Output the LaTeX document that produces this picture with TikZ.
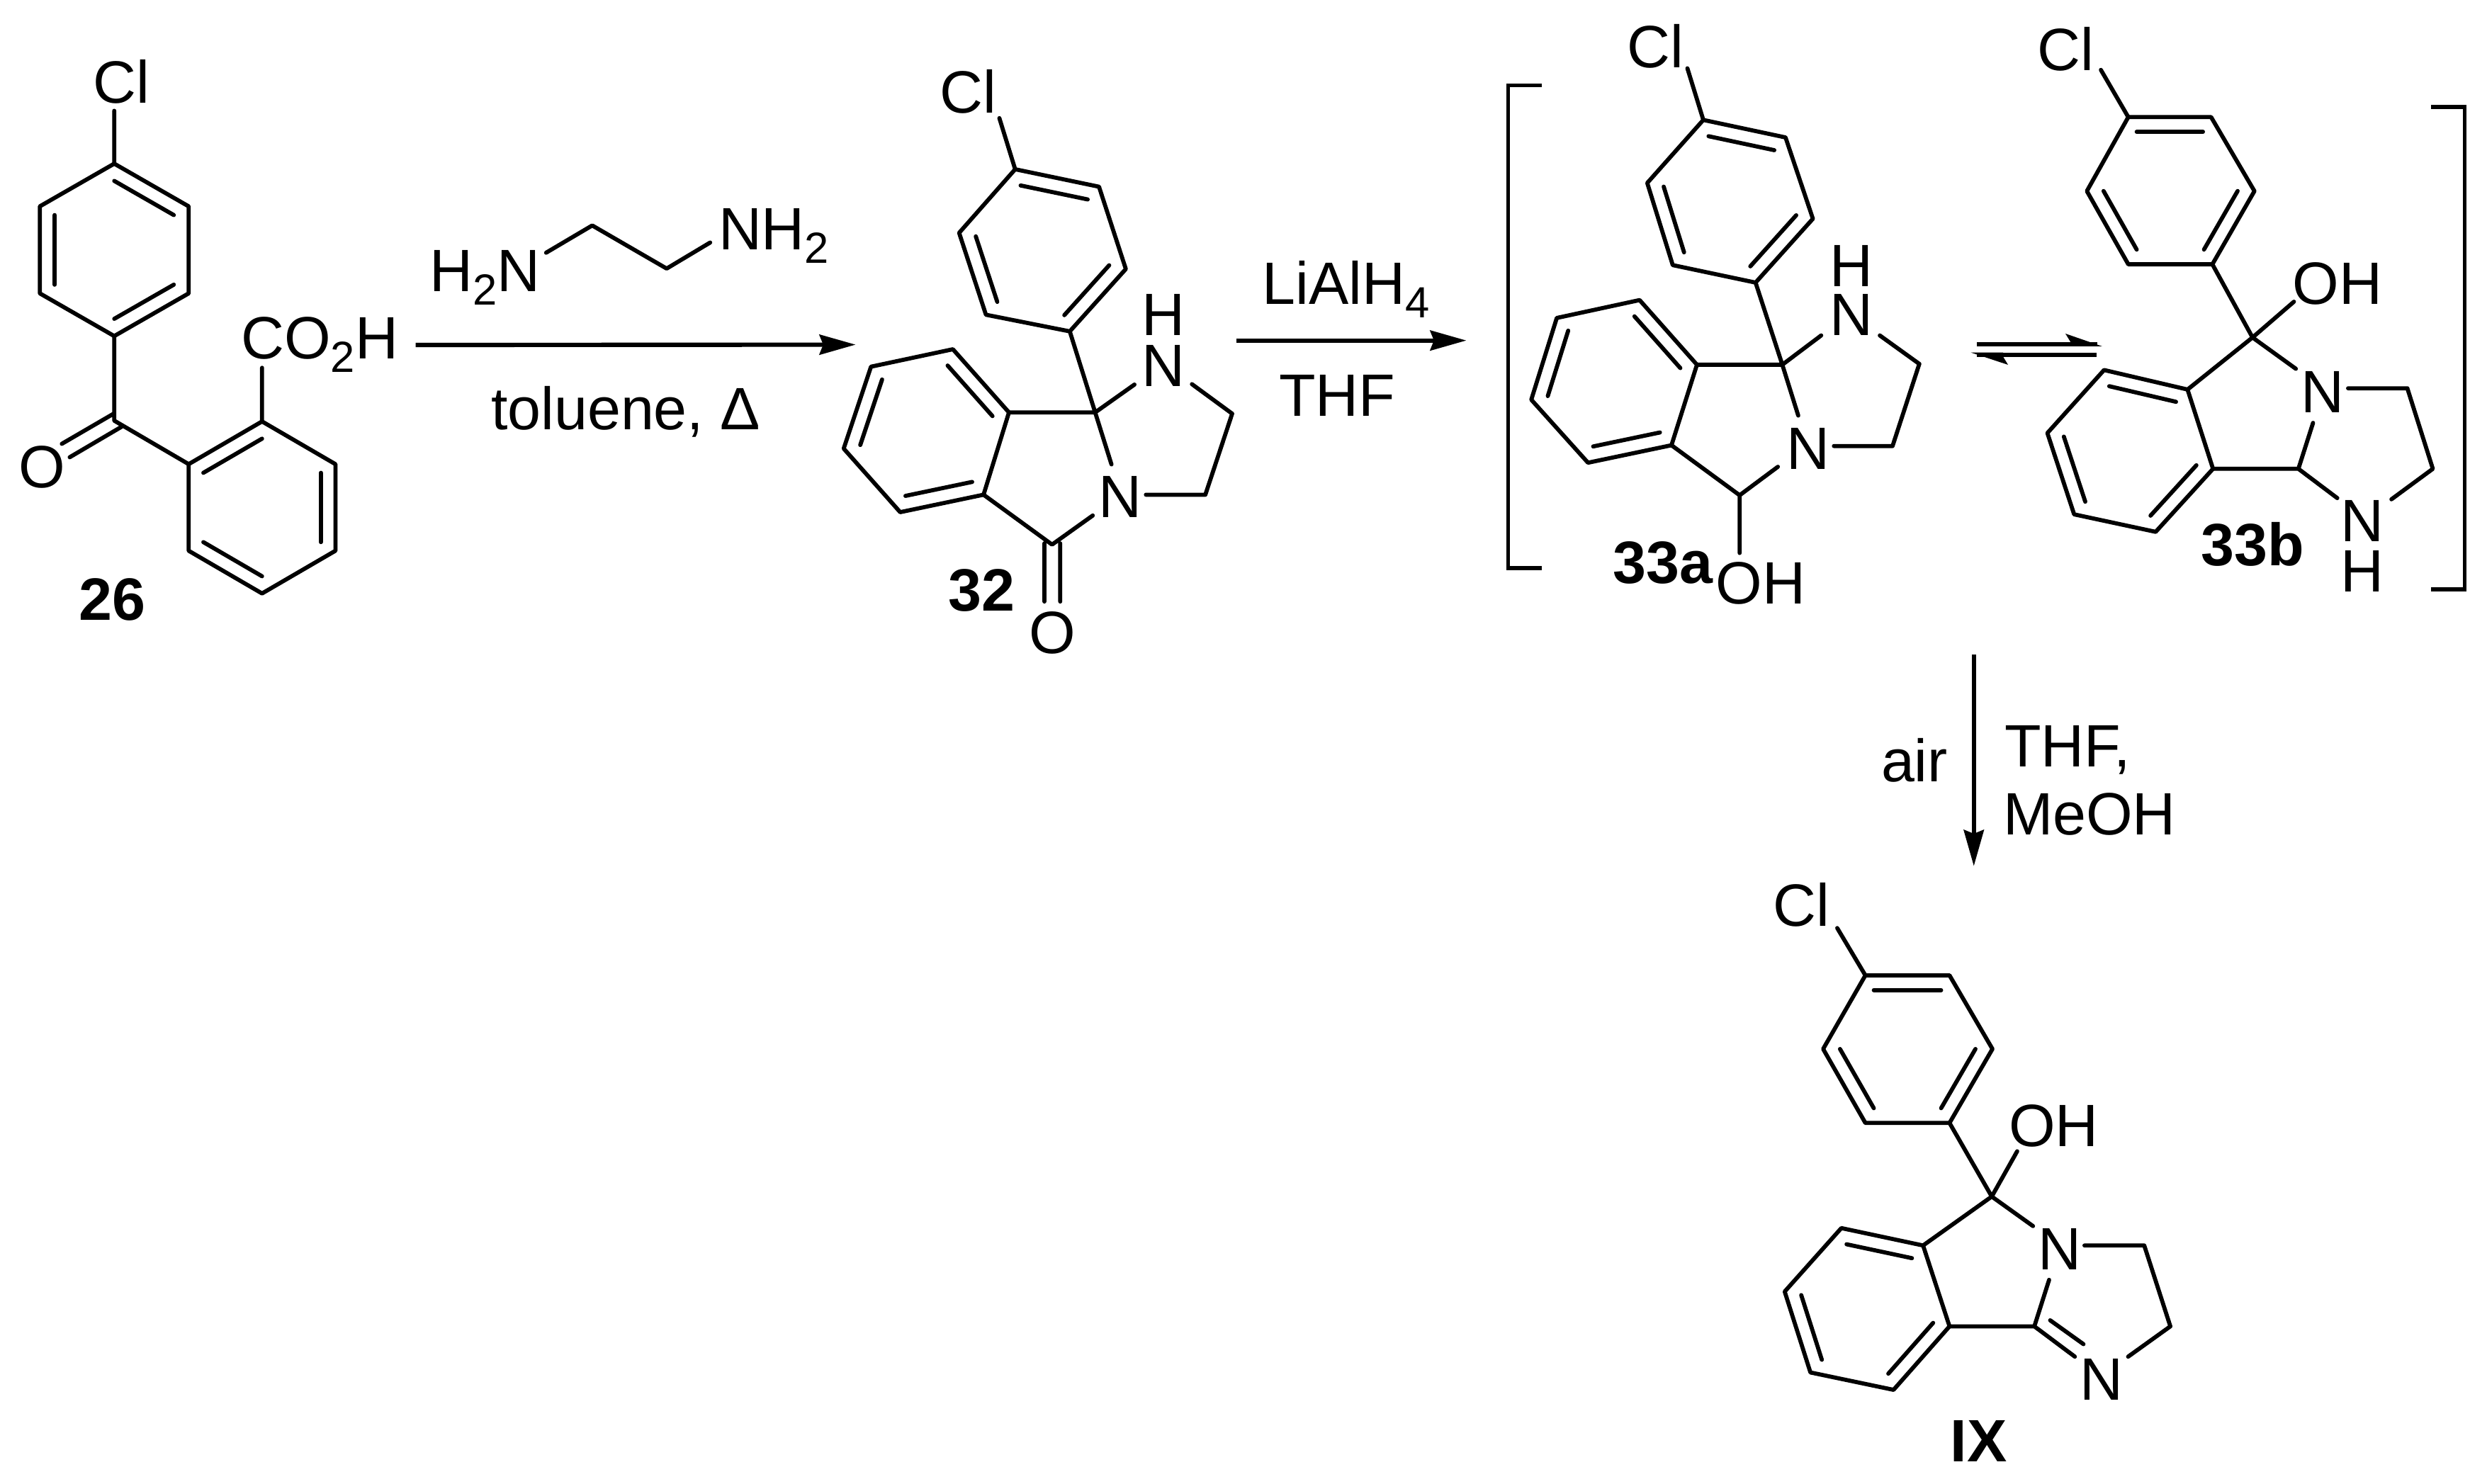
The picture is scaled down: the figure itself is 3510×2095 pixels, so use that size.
\documentclass[tikz,border=0pt]{standalone}
\usepackage{fontspec}
\setmainfont{Liberation Sans}
\usetikzlibrary{arrows.meta,calc}
\newcommand{\lowidx}[1]{\raisebox{-5.4pt}{\fontsize{17.5}{17.5}\selectfont #1}}
\newcommand{\pts}[1]{\foreach \n/\p in {#1}{\coordinate (\n) at (\p);}}
\newcommand{\inbond}[3]{\draw[bond] ($(#1)!0.2!(#3)$) -- ($(#2)!0.2!(#3)$);}
\tikzset{
  bond/.style={line width=1.65pt,line cap=round,line join=round},
  rxn/.style={line width=1.75pt,-{Stealth[length=14.5pt,width=8pt,inset=1.5pt]}},
  brk/.style={line width=1.65pt,line cap=butt,line join=miter},
  atom/.style={inner sep=0pt,outer sep=0pt,font=\fontsize{24}{28}\selectfont},
  basetxt/.style={atom,anchor=base west},
  cmpd/.style={inner sep=0pt,outer sep=0pt,font=\fontsize{24}{28}\selectfont\bfseries},
  zA/.style={shift={(0,60)},xscale=0.73964,yscale=0.57398},
  zB/.style={shift={(1140,60)},xscale=0.67602,yscale=0.58673},
  zC/.style={shift={(2100,0)},xscale=0.89923,yscale=0.57398},
  zD/.style={shift={(2400,1200)},xscale=0.48469,yscale=0.57079},
}
\begin{document}
\begin{tikzpicture}[x=0.01cm,y=-0.01cm]
\useasboundingbox (0,0) rectangle (3510,2095);

% ---------- compound 26 ----------
\begin{scope}[zA]
\pts{a1/{218,298},a2/{360,403},a3/{360,617},a4/{218,722},a5/{76,617},a6/{76,403},
     b1/{360,1037},b2/{500,932},b3/{640,1037},b4/{640,1250},b5/{500,1355},b6/{360,1250},
     kc/{218,930},kx1/{218,912},ko1/{118,987},kx2/{232,945},ko2/{133,1020},
     clend/{218,168},coend/{500,800},
     en1/{1042,517},en2/{1130,450},en3/{1272,556},en4/{1355,492},ars1/{793,744}}
\coordinate (ac) at ($(a1)!.5!(a4)$);
\coordinate (bc) at ($(b1)!.5!(b4)$);
\draw[bond] (a1)--(a2)--(a3)--(a4)--(a5)--(a6)--cycle;
\draw[bond] (b1)--(b2)--(b3)--(b4)--(b5)--(b6)--cycle;
\inbond{a1}{a2}{ac}\inbond{a3}{a4}{ac}\inbond{a5}{a6}{ac}
\inbond{b1}{b2}{bc}\inbond{b3}{b4}{bc}\inbond{b5}{b6}{bc}
\draw[bond] (clend)--(a1) (a4)--(kc)--(b1) (kx1)--(ko1) (kx2)--(ko2) (coend)--(b2);
\draw[bond] (en1)--(en2)--(en3)--(en4);
\node[atom] (cl26) at (232,97) {Cl};
\node[atom] (o26) at (80,1045) {O};
\node[basetxt] (co2h) at (460,778) {CO\lowidx{2}H};
\node[cmpd] (l26) at (214,1370) {26};
\node[basetxt] (h2n) at (820,612) {H\lowidx{2}N};
\node[basetxt] (nh2) at (1371,510) {NH\lowidx{2}};
\node[basetxt] (tol) at (937,953) {toluene, Δ};
\end{scope}

% ---------- compound 32 ----------
\begin{scope}[zB]
\pts{c1/{433,305},c2/{608,347},c3/{664,545},c4/{547,695},c5/{372,655},c6/{316,458},
     d1/{303,738},d2/{132,780},d3/{75,977},d4/{193,1130},d5/{367,1088},d6/{420,890},
     ds/{600,890},dn1/{682,823},dn2/{802,822},de1/{886,893},de2/{830,1088},dn3/{706,1088},
     dn4/{634,1015},dn5/{595,1138},dk/{510,1208},dk1/{494,1205},do1/{494,1345},dk2/{527,1205},do2/{527,1345},
     dcl/{400,182},are1/{100,727},ars2/{895,717},are2/{1375,717},
     bl1/{1532,103},bl2/{1462,103},bl3/{1462,1265},bl4/{1532,1265}}
\coordinate (cc) at ($(c1)!.5!(c4)$);
\coordinate (dc) at ($(d1)!.5!(d4)$);
\draw[bond] (c1)--(c2)--(c3)--(c4)--(c5)--(c6)--cycle;
\draw[bond] (d1)--(d2)--(d3)--(d4)--(d5)--(d6)--cycle;
\inbond{c1}{c2}{cc}\inbond{c3}{c4}{cc}\inbond{c5}{c6}{cc}
\inbond{d6}{d1}{dc}\inbond{d2}{d3}{dc}\inbond{d4}{d5}{dc}
\draw[bond] (dcl)--(c1) (c4)--(ds) (d6)--(ds)--(dn1) (dn2)--(de1)--(de2)--(dn3)
  (ds)--(dn4) (dn5)--(dk)--(d5) (dk1)--(do1) (dk2)--(do2);
\node[atom] (cl32) at (335,118) {Cl};
\node[atom] (n32a) at (742,778) {N};
\node[atom] (h32) at (742,655) {H};
\node[atom] (n32b) at (653,1093) {N};
\node[atom] (o32) at (511,1420) {O};
\node[cmpd] (l32) at (363,1318) {32};
\node[basetxt] (lah) at (949,630) {LiAlH\lowidx{4}};
\node[atom] (thf1) at (1105,850) {THF};
\draw[brk] (bl1)--(bl2)--(bl3)--(bl4);
\end{scope}
\draw[rxn] (ars1)--(are1);
\draw[rxn] (ars2)--(are2);

% ---------- compounds 33a, 33b ----------
\begin{scope}[zC]
\pts{e1/{338,295},e2/{467,338},e3/{510,538},e4/{420,695},e5/{290,652},e6/{250,450},
     f1/{238,738},f2/{108,782},f3/{68,983},f4/{157,1138},f5/{288,1095},f6/{328,897},
     fs/{462,897},fn1/{523,825},fn2/{615,825},fe1/{677,895},fe2/{635,1097},fn3/{543,1097},
     fn4/{487,1022},fn5/{455,1148},fk/{395,1218},fo/{395,1360},fcl/{313,168},
     g1/{1005,288},g2/{1135,288},g3/{1203,470},g4/{1137,650},g5/{1005,650},g6/{940,470},
     h1/{967,910},h2/{878,1065},h3/{920,1265},h4/{1048,1308},h5/{1138,1153},h6/{1098,958},
     hs/{1200,830},hoh/{1265,742},hn1/{1268,907},hn2/{1350,955},he1/{1443,955},he2/{1483,1153},
     hn3/{1418,1228},hn4/{1333,1225},hk/{1272,1153},hn5/{1295,1040},hcl/{962,172},
     br1/{1480,263},br2/{1533,263},br3/{1533,1450},br4/{1480,1450}}
\coordinate (ec) at ($(e1)!.5!(e4)$);
\coordinate (fc) at ($(f1)!.5!(f4)$);
\coordinate (gc) at ($(g1)!.5!(g4)$);
\coordinate (hc) at ($(h1)!.5!(h4)$);
\draw[bond] (e1)--(e2)--(e3)--(e4)--(e5)--(e6)--cycle;
\draw[bond] (f1)--(f2)--(f3)--(f4)--(f5)--(f6)--cycle;
\inbond{e1}{e2}{ec}\inbond{e3}{e4}{ec}\inbond{e5}{e6}{ec}
\inbond{f6}{f1}{fc}\inbond{f2}{f3}{fc}\inbond{f4}{f5}{fc}
\draw[bond] (fcl)--(e1) (e4)--(fs) (f6)--(fs)--(fn1) (fn2)--(fe1)--(fe2)--(fn3)
  (fs)--(fn4) (fn5)--(fk)--(f5) (fk)--(fo);
\node[atom] (cl33a) at (263,113) {Cl};
\node[atom] (n33a) at (570,775) {N};
\node[atom] (h33a) at (570,655) {H};
\node[atom] (m33a) at (503,1103) {N};
\node[atom] (oh33a) at (428,1435) {OH};
\node[cmpd] (l33a) at (275,1385) {33a};
\draw[bond] (g1)--(g2)--(g3)--(g4)--(g5)--(g6)--cycle;
\draw[bond] (h1)--(h2)--(h3)--(h4)--(h5)--(h6)--cycle;
\inbond{g1}{g2}{gc}\inbond{g3}{g4}{gc}\inbond{g5}{g6}{gc}
\inbond{h6}{h1}{hc}\inbond{h2}{h3}{hc}\inbond{h4}{h5}{hc}
\draw[bond] (hcl)--(g1) (g4)--(hs)--(hoh) (hs)--(h6) (hs)--(hn1) (hn2)--(he1)--(he2)--(hn3)
  (hn4)--(hk)--(h5) (hk)--(hn5);
\node[atom] (cl33b) at (907,120) {Cl};
\node[atom] (oh33b) at (1333,697) {OH};
\node[atom] (n33b) at (1310,965) {N};
\node[atom] (m33b) at (1372,1282) {N};
\node[atom] (h33b) at (1372,1405) {H};
\node[cmpd] (l33b) at (1200,1338) {33b};
\draw[brk] (br1)--(br2)--(br3)--(br4);
\end{scope}

% ---------- equilibrium arrows ----------
\pts{eq1/{2790,486},eq2/{2960,486},eq3/{2966.7,488.9},eq4/{2915,471},eq5/{2922.3,483},eq6/{2922,488.9},
     eq7/{2959,501},eq8/{2790,501},eq9/{2781.7,497.7},eq10/{2834,515},eq11/{2826.7,503},eq12/{2827,497.7}}
\draw[line width=1.7pt] (eq1)--(eq2) (eq7)--(eq8);
\fill (eq3)--(eq4)--(eq5)--(eq6)--cycle;
\fill (eq9)--(eq10)--(eq11)--(eq12)--cycle;

% ---------- air step ----------
\coordinate (ars3) at (2785.7,924);
\coordinate (are3) at (2785.7,1222.7);
\draw[rxn] (ars3)--(are3);
\node[basetxt] (air) at (2655,1103) {air};
\node[basetxt] (thf2) at (2829,1082.7) {THF,};
\node[basetxt] (meoh) at (2827,1178) {MeOH};

% ---------- compound IX ----------
\begin{scope}[zD]
\pts{i1/{480,310},i2/{725,310},i3/{850,492},i4/{725,675},i5/{480,675},i6/{357,492},
     j1/{410,935},j2/{245,1092},j3/{320,1292},j4/{562,1335},j5/{725,1178},j6/{648,978},
     js/{848,857},joh/{922,745},jn1/{968,930},jn2/{1118,978},je1/{1292,978},je2/{1368,1178},
     jn3/{1245,1253},jk/{972,1178},jn4/{1015,1063},jn5/{1090,1253},jd1/{1018,1163},jd2/{1115,1222},
     jcl/{398,193}}
\coordinate (ic) at ($(i1)!.5!(i4)$);
\coordinate (jc) at ($(j1)!.5!(j4)$);
\draw[bond] (i1)--(i2)--(i3)--(i4)--(i5)--(i6)--cycle;
\draw[bond] (j1)--(j2)--(j3)--(j4)--(j5)--(j6)--cycle;
\inbond{i1}{i2}{ic}\inbond{i3}{i4}{ic}\inbond{i5}{i6}{ic}
\inbond{j6}{j1}{jc}\inbond{j2}{j3}{jc}\inbond{j4}{j5}{jc}
\draw[bond] (jcl)--(i1) (i4)--(js)--(joh) (js)--(j6) (js)--(jn1) (jn2)--(je1)--(je2)--(jn3)
  (jn5)--(jk)--(j5) (jk)--(jn4) (jd1)--(jd2);
\node[atom] (cl9) at (293,135) {Cl};
\node[atom] (oh9) at (1028,683) {OH};
\node[atom] (n9a) at (1045,987) {N};
\node[atom] (n9b) at (1167,1310) {N};
\node[cmpd] (l9) at (810,1462) {IX};
\end{scope}
\end{tikzpicture}
\end{document}
